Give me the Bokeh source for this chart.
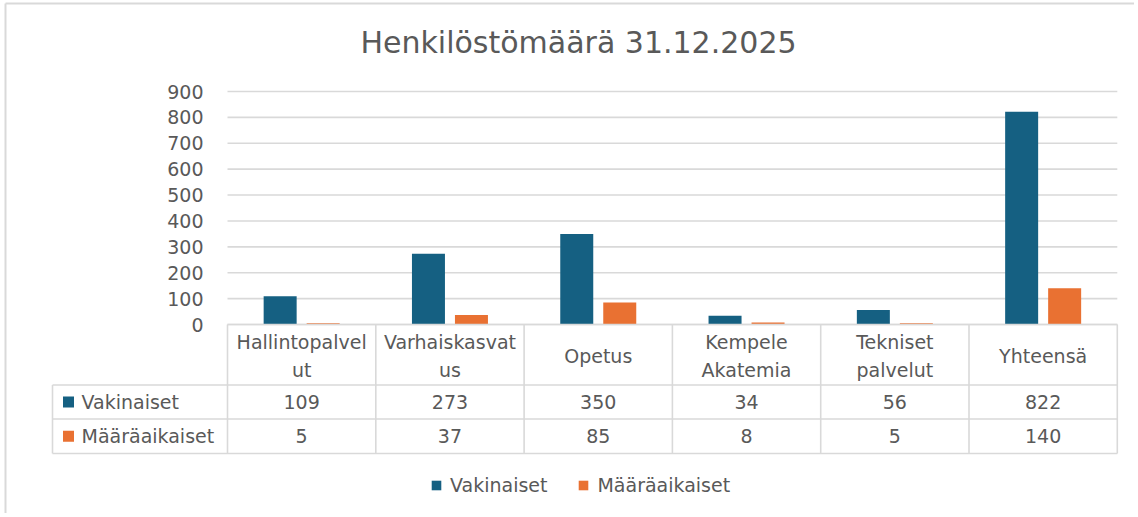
from bokeh.plotting import figure
from bokeh.models import Range1d, ColumnDataSource, Legend, LegendItem
from bokeh.transform import dodge
from bokeh.core.properties import value
from bokeh.embed import file_html
from bokeh.resources import INLINE

# ---------------- data ----------------
title = "Henkilöstömäärä 31.12.2025"
categories = ["Hallintopalvelut", "Varhaiskasvatus", "Opetus",
              "Kempele Akatemia", "Tekniset palvelut", "Yhteensä"]
header_labels = ["Hallintopalvel\nut", "Varhaiskasvat\nus", "Opetus",
                 "Kempele\nAkatemia", "Tekniset\npalvelut", "Yhteensä"]
series_names = ["Vakinaiset", "Määräaikaiset"]
vakinaiset = [109, 273, 350, 34, 56, 822]
maaraaikaiset = [5, 37, 85, 8, 5, 140]
y_ticks = [0, 100, 200, 300, 400, 500, 600, 700, 800, 900]

# ---------------- style / layout ----------------
FONT = "DejaVu Sans"
TEXT = "#595959"
LINE = "#D9D9D9"
BLUE = "#156082"
ORANGE = "#E97132"
FS = "19px"

W, H = 1134, 513
CAT_W = 148.3          # px per category
CAT0 = 227.0           # px of left edge of first category column
ZERO_PX = 324.0        # px (from top) of value 0
PPU = 233.0 / 900.0    # px per value unit

x_start = -CAT0 / CAT_W
x_end = x_start + W / CAT_W
y_end = ZERO_PX / PPU
y_start = -(H - ZERO_PX) / PPU


def dx(px):
    return x_start + px / CAT_W


def dy(px):
    return (ZERO_PX - px) / PPU


p = figure(width=W, height=H, x_range=Range1d(x_start, x_end),
           y_range=Range1d(y_start, y_end), output_backend="svg",
           toolbar_location=None, min_border=0)
p.axis.visible = False
p.grid.visible = False
p.outline_line_color = None
p.background_fill_color = "white"

n = len(categories)
centers = [i + 0.5 for i in range(n)]

# chart border (left/top)
p.segment(x0=[dx(5), dx(5)], y0=[dy(3), dy(3)], x1=[dx(5), dx(W)], y1=[dy(H), dy(3)],
          line_color=LINE, line_width=2)

# title
p.text(x=[dx(578)], y=[dy(42)], text=[title], text_font=value(FONT),
       text_font_size="30px", text_color=TEXT, text_align="center",
       text_baseline="middle")

# gridlines + tick labels
grid_x0 = [0.0] * len(y_ticks)
grid_x1 = [float(n)] * len(y_ticks)
p.segment(x0=grid_x0, y0=y_ticks, x1=grid_x1, y1=y_ticks,
          line_color=LINE, line_width=1.6)
p.text(x=[dx(CAT0 - 24)] * len(y_ticks), y=y_ticks, text=[str(t) for t in y_ticks],
       text_font=value(FONT), text_font_size=FS, text_color=TEXT,
       text_align="right", text_baseline="middle")

# bars
src = ColumnDataSource(dict(x=centers, v=vakinaiset, m=maaraaikaiset))
BW = 33.0 / CAT_W
OFF = 21.5 / CAT_W
r_v = p.vbar(x=dodge("x", -OFF, range=p.x_range), top="v", bottom=0, width=BW,
             source=src, fill_color=BLUE, line_color=None)
r_m = p.vbar(x=dodge("x", OFF, range=p.x_range), top="m", bottom=0, width=BW,
             source=src, fill_color=ORANGE, line_color=None)

# data table
ROW1, ROW2, ROW3 = 384.5, 418.5, 453.0
TABLE_LEFT = 52.0
col_edges = [float(i) for i in range(n + 1)]
# vertical lines
p.segment(x0=col_edges, y0=[0] * (n + 1), x1=col_edges, y1=[dy(ROW3)] * (n + 1),
          line_color=LINE, line_width=1.6)
p.segment(x0=[dx(TABLE_LEFT)], y0=[dy(ROW1)], x1=[dx(TABLE_LEFT)], y1=[dy(ROW3)],
          line_color=LINE, line_width=1.6)
# horizontal lines
p.segment(x0=[0.0, dx(TABLE_LEFT), dx(TABLE_LEFT), dx(TABLE_LEFT)],
          y0=[0, dy(ROW1), dy(ROW2), dy(ROW3)],
          x1=[float(n)] * 4,
          y1=[0, dy(ROW1), dy(ROW2), dy(ROW3)],
          line_color=LINE, line_width=1.6)

# header labels
p.text(x=centers, y=[dy(355.5)] * n, text=header_labels, text_font=value(FONT),
       text_font_size=FS, text_color=TEXT, text_align="center",
       text_baseline="middle", text_line_height=1.3)

# row labels with keys
row_y = [dy((ROW1 + ROW2) / 2), dy((ROW2 + ROW3) / 2)]
p.scatter(x=[dx(68)] * 2, y=row_y, marker="square", size=11,
          fill_color=[BLUE, ORANGE], line_color=None)
p.text(x=[dx(81)] * 2, y=row_y, text=series_names, text_font=value(FONT),
       text_font_size=FS, text_color=TEXT, text_align="left",
       text_baseline="middle")

# values
p.text(x=centers, y=[row_y[0]] * n, text=[str(v) for v in vakinaiset],
       text_font=value(FONT), text_font_size=FS, text_color=TEXT,
       text_align="center", text_baseline="middle")
p.text(x=centers, y=[row_y[1]] * n, text=[str(v) for v in maaraaikaiset],
       text_font=value(FONT), text_font_size=FS, text_color=TEXT,
       text_align="center", text_baseline="middle")

# legend
legend = Legend(items=[LegendItem(label=series_names[0], renderers=[r_v]),
                       LegendItem(label=series_names[1], renderers=[r_m])],
                orientation="horizontal", location=(430, H - 496),
                glyph_width=12, glyph_height=12, label_standoff=8, spacing=30,
                padding=0, margin=0, border_line_color=None,
                background_fill_alpha=0, label_text_font=FONT,
                label_text_font_size=FS, label_text_color=TEXT)
p.add_layout(legend, "center")

open("out.html", "w").write(file_html(p, INLINE))
